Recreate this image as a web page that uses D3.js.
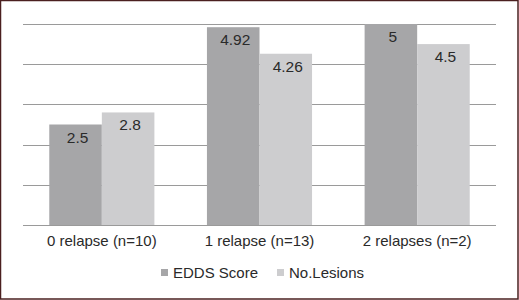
<!DOCTYPE html>
<html><head><meta charset="utf-8">
<script src="https://cdn.jsdelivr.net/npm/d3@7"></script>
<style>html,body{margin:0;padding:0;background:#fff;}svg{display:block;}</style>
</head><body>
<script>
const categories = ["0 relapse (n=10)", "1 relapse (n=13)", "2 relapses (n=2)"];
const seriesNames = ["EDDS Score", "No.Lesions"];
const eddsScore = [2.5, 4.92, 5];
const noLesions = [2.8, 4.26, 4.5];
const valueLabels = [["2.5", "4.92", "5"], ["2.8", "4.26", "4.5"]];
const yTicks = [0, 1, 2, 3, 4, 5];

const W = 519, H = 300;
const colors = ["#a6a6a8", "#cdcdcf"];
const FONT = "Liberation Sans, Arial, sans-serif";
const svg = d3.select("body").append("svg").attr("width", W).attr("height", H);

svg.append("rect").attr("x", 0.5).attr("y", 0.5).attr("width", W - 1.5).attr("height", H - 1.5)
  .attr("fill", "#fff").attr("stroke", "#4b2020").attr("stroke-width", 1.5);

const x0 = d3.scaleBand().domain(categories).range([23, 496]).paddingInner(0).paddingOuter(0);
const x1 = d3.scaleBand().domain(seriesNames).range([0, x0.bandwidth()]).paddingInner(0).paddingOuter(0.5);
const y = d3.scaleLinear().domain([0, 5]).range([225, 24]);

const g = svg.append("g");
g.selectAll("line.grid").data(yTicks).enter().append("line")
  .attr("x1", 23).attr("x2", 496)
  .attr("y1", d => Math.round(y(d)) + 0.5).attr("y2", d => Math.round(y(d)) + 0.5)
  .attr("stroke", "#9a9a9a").attr("stroke-width", 1);

const data = [eddsScore, noLesions];
data.forEach((vals, si) => {
  categories.forEach((c, ci) => {
    const bx = x0(c) + x1(seriesNames[si]);
    g.append("rect").attr("x", bx).attr("y", y(vals[ci]))
      .attr("width", x1.bandwidth()).attr("height", y(0) - y(vals[ci]))
      .attr("fill", colors[si]);
    g.append("text").attr("x", bx + x1.bandwidth() / 2 + 2).attr("y", y(vals[ci]) + 18)
      .attr("text-anchor", "middle").attr("font-family", FONT)
      .attr("font-size", 15.5).attr("fill", "#2a2a2a").text(valueLabels[si][ci]);
  });
});

const xAxis = d3.axisBottom(x0).tickSize(0).tickPadding(10);
const ax = svg.append("g").attr("transform", "translate(0,225)").call(xAxis);
ax.select(".domain").remove();
ax.selectAll("text").attr("font-family", FONT)
  .attr("font-size", 15).attr("fill", "#2a2a2a");

const legendX = [161, 277];
seriesNames.forEach((s, i) => {
  svg.append("rect").attr("x", legendX[i]).attr("y", 269).attr("width", 7).attr("height", 7).attr("fill", colors[i]);
  svg.append("text").attr("x", legendX[i] + 12).attr("y", 278)
    .attr("font-family", FONT).attr("font-size", 15)
    .attr("fill", "#2a2a2a").text(s);
});
</script>
</body></html>
